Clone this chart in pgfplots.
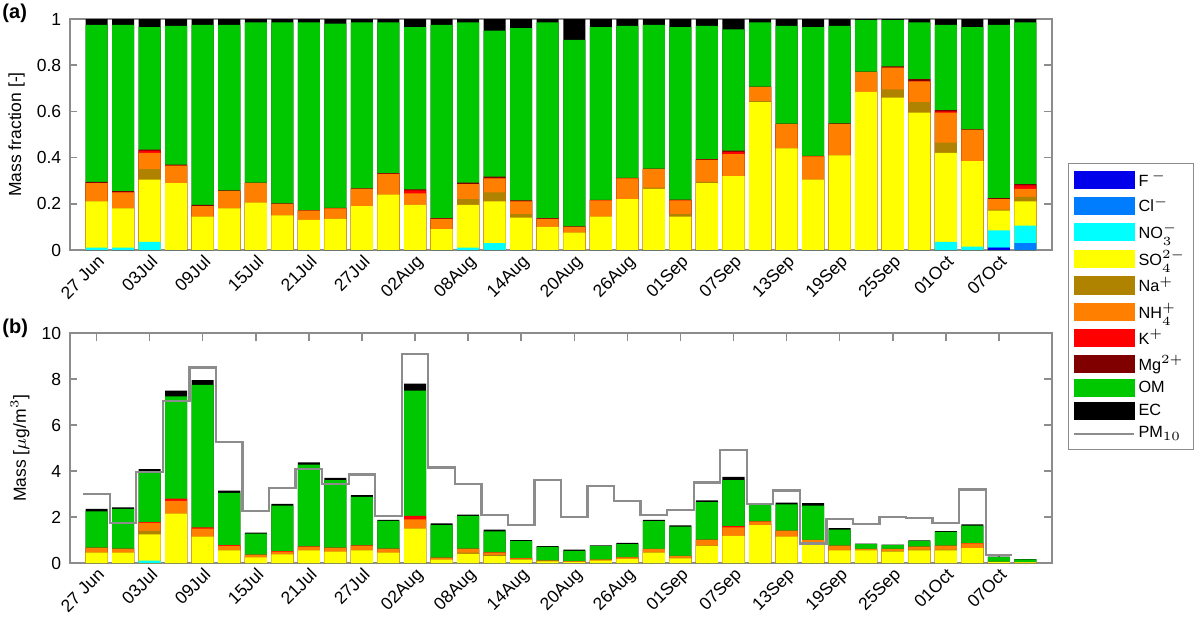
\documentclass[border=0pt]{standalone}
\usepackage{pgfplots}
\usepackage{pgfplotstable}
\pgfplotsset{compat=1.18}
\usepackage{fontspec}
\setmainfont{Liberation Sans}
\definecolor{cF}{RGB}{0,0,235}
\definecolor{cCl}{RGB}{0,125,255}
\definecolor{cNO}{RGB}{0,255,255}
\definecolor{cSO}{RGB}{255,255,0}
\definecolor{cNa}{RGB}{175,130,0}
\definecolor{cNH}{RGB}{255,128,0}
\definecolor{cK}{RGB}{255,0,0}
\definecolor{cMg}{RGB}{128,0,0}
\definecolor{cOM}{RGB}{0,200,0}
\definecolor{cPM}{RGB}{140,140,140}
\pgfplotstableread{
x F Cl NO SO Na NH K Mg OM EC
0 0 0 .01 .21 .21 .29 .29 .295 .975 1
1 0 0 .01 .18 .18 .25 .25 .255 .975 1
2 0 0 .035 .305 .35 .42 .43 .435 .965 1
3 0 0 0 .29 .29 .365 .365 .37 .97 1
4 0 0 0 .145 .145 .19 .19 .195 .975 1
5 0 0 0 .18 .18 .255 .255 .258 .975 1
6 0 0 0 .205 .205 .29 .29 .292 .985 1
7 0 0 0 .15 .15 .20 .20 .202 .985 1
8 0 0 0 .13 .13 .17 .17 .172 .985 1
9 0 0 0 .135 .135 .18 .18 .182 .98 1
10 0 0 0 .19 .19 .265 .265 .267 .985 1
11 0 0 0 .24 .24 .33 .33 .333 .985 1
12 0 0 0 .195 .195 .245 .258 .262 .965 1
13 0 0 0 .09 .09 .135 .135 .138 .975 1
14 0 0 .01 .195 .22 .285 .285 .292 .985 1
15 0 0 .03 .21 .25 .31 .31 .318 .95 1
16 0 0 0 .14 .155 .21 .21 .215 .96 1
17 0 0 0 .10 .10 .135 .135 .138 .985 1
18 0 0 0 .075 .075 .10 .10 .102 .91 1
19 0 0 0 .145 .145 .215 .215 .217 .965 1
20 0 0 0 .22 .22 .31 .31 .312 .97 1
21 0 0 0 .265 .27 .35 .35 .352 .975 1
22 0 0 0 .145 .155 .215 .215 .218 .965 1
23 0 0 0 .29 .295 .39 .39 .393 .97 1
24 0 0 0 .32 .32 .415 .425 .43 .955 1
25 0 0 0 .64 .645 .705 .705 .707 .985 1
26 0 0 0 .44 .44 .545 .545 .547 .97 1
27 0 0 0 .305 .305 .405 .405 .407 .965 1
28 0 0 0 .41 .41 .545 .545 .548 .97 1
29 0 0 0 .685 .685 .77 .77 .772 .995 1
30 0 0 0 .66 .695 .79 .79 .795 .995 1
31 0 0 0 .595 .64 .73 .73 .74 .985 1
32 0 0 .035 .42 .465 .595 .60 .605 .975 1
33 0 0 .015 .385 .385 .52 .52 .522 .965 1
34 .01 .01 .085 .17 .175 .22 .22 .225 .975 1
35 0 .03 .105 .21 .23 .265 .28 .285 .985 1
}\fractab
\pgfplotstableread{
x NO SO Na NH K OM EC
0 0 .45 .45 .65 .67 2.25 2.35
1 0 .45 .45 .6 .62 2.35 2.42
2 .1 1.25 1.4 1.75 1.78 3.95 4.08
3 0 2.15 2.15 2.7 2.8 7.25 7.5
4 0 1.15 1.15 1.5 1.55 7.75 7.95
5 0 .55 .55 .75 .78 3.05 3.15
6 0 .25 .25 .35 .36 1.28 1.32
7 0 .38 .38 .5 .52 2.5 2.57
8 0 .55 .55 .7 .72 4.28 4.38
9 0 .5 .5 .65 .67 3.6 3.7
10 0 .55 .55 .75 .77 2.88 2.95
11 0 .45 .45 .6 .62 1.83 1.88
12 0 1.5 1.5 1.9 2.05 7.5 7.8
13 0 .15 .15 .22 .23 1.65 1.72
14 0 .4 .45 .6 .62 2.05 2.1
15 0 .3 .35 .45 .46 1.38 1.45
16 0 .15 .17 .2 .21 .95 1.0
17 0 .07 .07 .1 .1 .70 .73
18 0 .05 .05 .07 .07 .53 .58
19 0 .1 .1 .15 .15 .73 .77
20 0 .18 .18 .25 .25 .82 .87
21 0 .45 .46 .6 .61 1.82 1.88
22 0 .2 .22 .3 .31 1.58 1.64
23 0 .75 .77 1.0 1.02 2.65 2.72
24 0 1.18 1.18 1.55 1.6 3.6 3.74
25 0 1.65 1.66 1.8 1.81 2.55 2.58
26 0 1.15 1.15 1.4 1.41 2.55 2.62
27 0 .8 .8 1.0 1.01 2.5 2.6
28 0 .55 .55 .75 .76 1.45 1.52
29 0 .55 .55 .6 .61 .82 .84
30 0 .5 .52 .6 .61 .78 .8
31 0 .55 .58 .7 .71 .96 .98
32 0 .55 .58 .75 .76 1.35 1.39
33 0 .65 .65 .85 .86 1.62 1.68
34 0 .04 .04 .05 .05 .26 .28
35 0 .03 .03 .04 .04 .16 .17
}\masstab
\pgfplotsset{
  common/.style={
    scale only axis, width=392.8pt,
    xmin=-1, xmax=36,
    axis line style={cPM, line width=0.6pt},
    tick style={cPM, line width=0.6pt},
    tick align=inside, major tick length=3pt,
    xtick={0,2,...,34},
    xticklabels={27 Jun,03Jul,09Jul,15Jul,21Jul,27Jul,02Aug,08Aug,14Aug,20Aug,26Aug,01Sep,07Sep,13Sep,19Sep,25Sep,01Oct,07Oct},
    x tick label style={rotate=45, anchor=north east, inner sep=1pt},
    tick label style={font=\fontsize{7}{8}\selectfont, black},
    label style={font=\fontsize{7}{8}\selectfont},
    /pgf/number format/assume math mode=true,
    ylabel shift=-2pt,
  },
  bb/.style={ybar, bar width=0.83, bar shift=0pt, draw=none, fill=#1, forget plot},
}
\newcommand\li[1]{\addlegendimage{legend image code/.code={\fill[#1] (0pt,-3.2pt) rectangle (24pt,3.6pt);}}}
\begin{document}
\begin{tikzpicture}
\path (0pt,0pt) rectangle (480pt,250pt);
\node[anchor=north west, font=\bfseries\fontsize{8}{9}\selectfont, inner sep=0pt] at (0.8pt,248.4pt) {(a)};
\node[anchor=north west, font=\bfseries\fontsize{8}{9}\selectfont, inner sep=0pt] at (0.8pt,122.4pt) {(b)};
\begin{axis}[common, at={(28pt,150pt)}, anchor=south west, height=92.4pt,
  ymin=0, ymax=1, ytick={0,0.2,...,1.01},
  yticklabels={0,0.2,0.4,0.6,0.8,1},
  ylabel={Mass fraction [-]}]
\addplot[bb=black] table[x=x,y=EC]{\fractab};
\addplot[bb=cOM] table[x=x,y=OM]{\fractab};
\addplot[bb=cMg] table[x=x,y=Mg]{\fractab};
\addplot[bb=cK] table[x=x,y=K]{\fractab};
\addplot[bb=cNH] table[x=x,y=NH]{\fractab};
\addplot[bb=cNa] table[x=x,y=Na]{\fractab};
\addplot[bb=cSO] table[x=x,y=SO]{\fractab};
\addplot[bb=cNO] table[x=x,y=NO]{\fractab};
\addplot[bb=cCl] table[x=x,y=Cl]{\fractab};
\addplot[bb=cF] table[x=x,y=F]{\fractab};
\end{axis}
\begin{axis}[common, at={(28pt,24.8pt)}, anchor=south west, height=92pt,
  ymin=0, ymax=10, ytick={0,2,...,10},
  ylabel={Mass [$\mu$g/m$^3$]},
  legend style={at={(1.016,1.74)}, anchor=north west, draw=cPM, line width=0.5pt,
     font=\fontsize{6.5}{6.5}\selectfont, row sep=0.6pt, inner sep=2pt,
     nodes={inner sep=1.2pt}},
  legend cell align=left]
\addplot[bb=black] table[x=x,y=EC]{\masstab};
\addplot[bb=cOM] table[x=x,y=OM]{\masstab};
\addplot[bb=cK] table[x=x,y=K]{\masstab};
\addplot[bb=cNH] table[x=x,y=NH]{\masstab};
\addplot[bb=cNa] table[x=x,y=Na]{\masstab};
\addplot[bb=cSO] table[x=x,y=SO]{\masstab};
\addplot[bb=cNO] table[x=x,y=NO]{\masstab};
\addplot[cPM, line width=0.9pt, const plot mark left, forget plot] coordinates {
(-0.5,3.0)(0.5,1.75)(1.5,3.95)(2.5,7.05)(3.5,8.5)(4.5,5.25)(5.5,2.25)(6.5,3.25)(7.5,4.1)(8.5,3.45)(9.5,3.85)(10.5,2.05)(11.5,9.1)(12.5,4.15)(13.5,3.45)(14.5,2.1)(15.5,1.65)(16.5,3.6)(17.5,2.0)(18.5,3.35)(19.5,2.7)(20.5,2.1)(21.5,2.3)(22.5,3.5)(23.5,4.9)(24.5,2.55)(25.5,3.15)(26.5,0.85)(27.5,1.9)(28.5,1.68)(29.5,2.0)(30.5,1.95)(31.5,1.75)(32.5,3.2)(33.5,0.35)(34.5,0.35)};
\li{cF}\addlegendentry{F$^{\,-}$}
\li{cCl}\addlegendentry{Cl$^-$}
\li{cNO}\addlegendentry{NO$_3^-$}
\li{cSO}\addlegendentry{SO$_4^{2-}$}
\li{cNa}\addlegendentry{Na$^+$}
\li{cNH}\addlegendentry{NH$_4^+$}
\li{cK}\addlegendentry{K$^+$}
\li{cMg}\addlegendentry{Mg$^{2+}$}
\li{cOM}\addlegendentry{OM}
\li{black}\addlegendentry{EC}
\addlegendimage{legend image code/.code={\draw[cPM, line width=0.9pt] (0pt,0pt) -- (24pt,0pt);}}
\addlegendentry{PM$_{10}$}
\end{axis}
\end{tikzpicture}
\end{document}
